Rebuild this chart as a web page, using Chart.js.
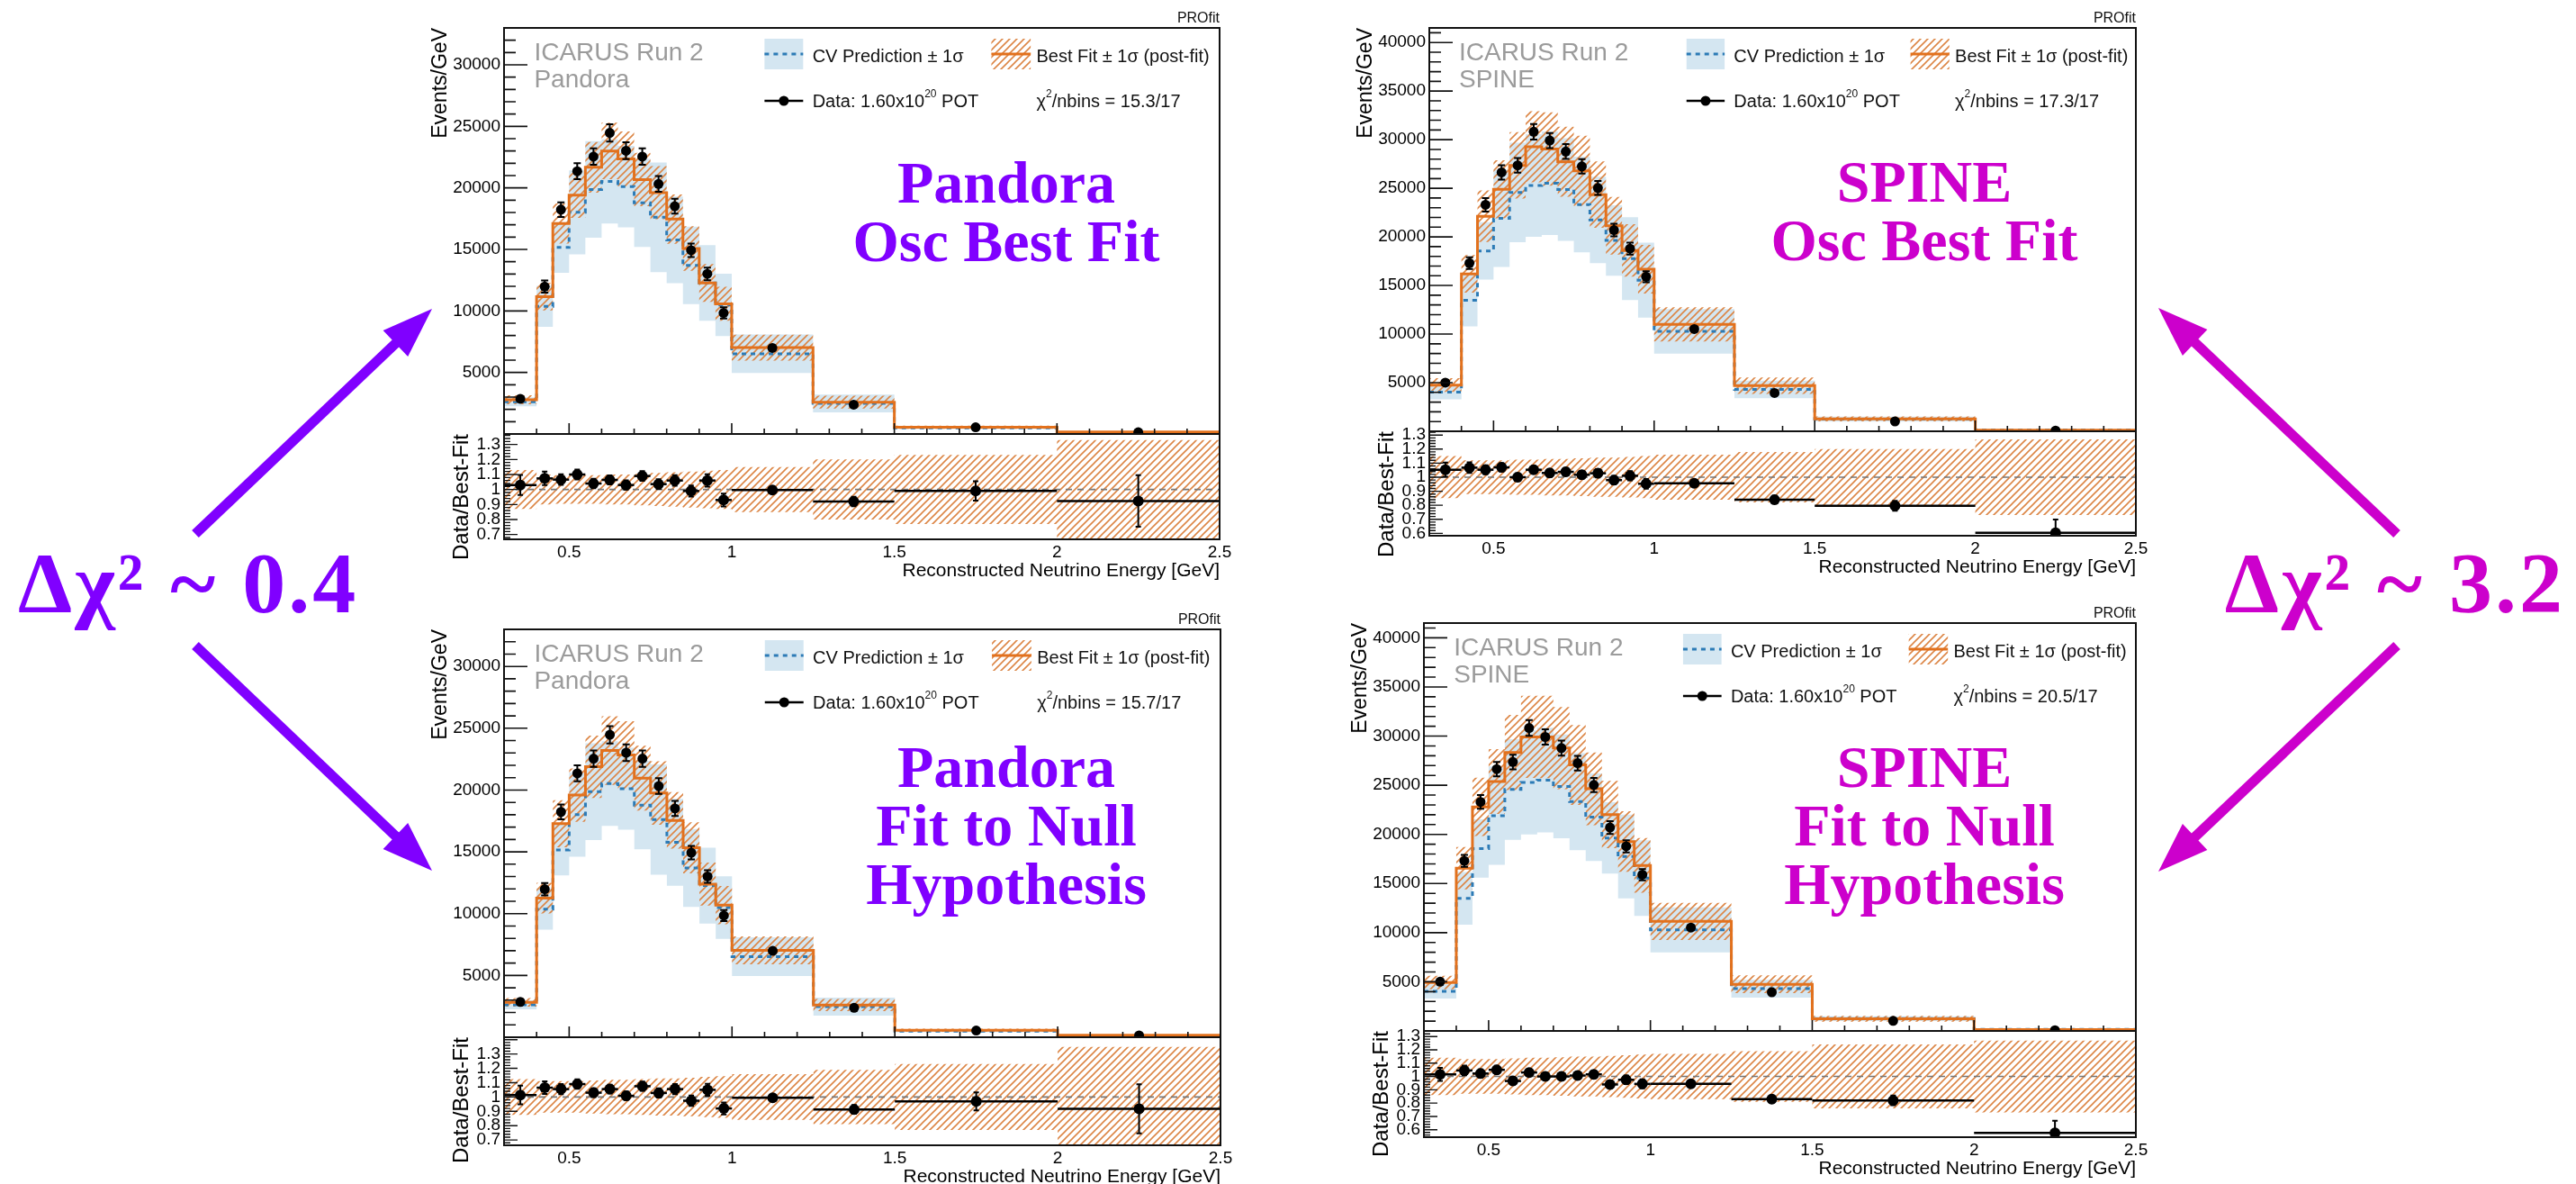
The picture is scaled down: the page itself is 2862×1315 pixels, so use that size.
<!DOCTYPE html>
<html>
<head>
<meta charset="utf-8">
<title>ICARUS Run 2 – PROfit fits, Pandora and SPINE</title>
<script src="https://cdn.jsdelivr.net/npm/chart.js@4.4.1/dist/chart.umd.min.js"></script>
<style>
  html, body { margin: 0; padding: 0; background: #ffffff; }
  body { position: relative; width: 2862px; height: 1315px; overflow: hidden; }
  canvas.pad { position: absolute; }
  .tag { position: absolute; width: 640px; font-family: "Liberation Serif", "Times New Roman", serif; font-weight: bold;
         font-size: 66px; line-height: 65px; text-align: center; white-space: nowrap; }
  .delta { position: absolute; font-family: "Liberation Serif", "Times New Roman", serif; font-weight: bold;
           font-size: 96px; line-height: 96px; letter-spacing: 3px; white-space: nowrap; }
  svg.arrows { position: absolute; left: 0; top: 0; }
</style>
</head>
<body>
<script>
// ---------- energy binning (GeV) ----------
const binEdges = [0.3, 0.4, 0.45, 0.5, 0.55, 0.6, 0.65, 0.7, 0.75, 0.8, 0.85, 0.9, 0.95, 1.0, 1.25, 1.5, 2.0, 2.5];

// ---------- observed data (Events/GeV) and statistical errors ----------
const pandoraData    = [2860, 11980, 18230, 21350, 22540, 24470, 23020, 22540, 20320, 18510, 14930, 13010, 9840, 6990, 2380, 540, 145];
const pandoraDataErr = [185, 500, 600, 650, 670, 700, 680, 670, 640, 610, 550, 510, 450, 110, 80, 35, 27];
const spineData      = [5010, 17300, 23300, 26640, 27360, 30820, 29910, 28780, 27250, 25030, 20700, 18790, 15900, 10520, 3940, 1020, 76];
const spineDataErr   = [240, 600, 700, 740, 750, 800, 780, 760, 740, 720, 650, 620, 570, 210, 130, 45, 12];

// ---------- central-value prediction and its 1 sigma ----------
const pandoraCV    = [2620, 10370, 15160, 18010, 19870, 20520, 20110, 18780, 17610, 15770, 13700, 12270, 10490, 6520, 2480, 500, 100];
const pandoraCVErr = [370, 1670, 2060, 3410, 3920, 3420, 3310, 3580, 4460, 3520, 3150, 3070, 2540, 1570, 730, 100, 20];
const spineCV      = [4020, 13480, 18560, 21900, 24570, 25290, 25520, 24880, 23330, 21750, 19630, 17760, 15550, 10290, 4300, 1250, 150];
const spineCVErr   = [720, 2680, 2960, 5000, 5120, 5290, 5320, 5280, 4930, 4450, 3630, 4260, 3850, 2290, 900, 250, 50];

// ---------- post-fit predictions and fractional 1 sigma ----------
const pandoraOscFit     = [2777, 11155, 17101, 19409, 21673, 22998, 22350, 20679, 19614, 17462, 15081, 12274, 10581, 7018, 2587, 545, 157];
const pandoraOscFitErr  = [0.13, 0.10, 0.095, 0.095, 0.095, 0.10, 0.10, 0.105, 0.11, 0.115, 0.12, 0.125, 0.13, 0.15, 0.20, 0.23, 0.33];
const pandoraNullFit    = [2821, 11249, 17280, 19587, 21883, 23194, 22837, 20967, 19767, 17545, 15329, 12390, 10696, 7032, 2607, 557, 158];
const pandoraNullFitErr = [0.125, 0.11, 0.11, 0.11, 0.115, 0.12, 0.12, 0.125, 0.13, 0.13, 0.135, 0.14, 0.145, 0.16, 0.19, 0.23, 0.35];
const spineOscFit       = [4758, 16199, 22127, 24897, 27360, 29269, 29039, 27726, 26794, 24348, 21144, 18604, 16684, 10993, 4690, 1280, 126];
const spineOscFitErr    = [0.15, 0.12, 0.12, 0.12, 0.125, 0.125, 0.13, 0.13, 0.135, 0.14, 0.14, 0.145, 0.15, 0.16, 0.18, 0.20, 0.27];
const spineNullFit      = [4931, 16555, 22798, 25371, 28323, 29922, 29910, 28780, 27061, 24636, 22021, 19272, 16843, 11144, 4747, 1244, 132];
const spineNullFitErr   = [0.14, 0.13, 0.13, 0.13, 0.135, 0.14, 0.14, 0.145, 0.15, 0.15, 0.155, 0.16, 0.165, 0.17, 0.19, 0.24, 0.27];

// ---------- axis ticks ----------
const energyTicks       = [0.5, 1, 1.5, 2, 2.5];
const pandoraEventTicks = [5000, 10000, 15000, 20000, 25000, 30000];
const spineEventTicks   = [5000, 10000, 15000, 20000, 25000, 30000, 35000, 40000];
const pandoraRatioTicks = [0.7, 0.8, 0.9, 1, 1.1, 1.2, 1.3];
const spineRatioTicks   = [0.6, 0.7, 0.8, 0.9, 1, 1.1, 1.2, 1.3];

// ---------- annotations ----------
const chi2Labels  = ['15.3/17', '17.3/17', '15.7/17', '20.5/17'];
const fitLabels   = [['Pandora', 'Osc Best Fit'], ['SPINE', 'Osc Best Fit'],
                     ['Pandora', 'Fit to Null', 'Hypothesis'], ['SPINE', 'Fit to Null', 'Hypothesis']];
const deltaChi2   = ['0.4', '3.2'];

// ---------- styles ----------
const FONT = '"Liberation Sans", Arial, Helvetica, sans-serif';
const PANDORA_COLOR = '#8000ff';
const SPINE_COLOR = '#cc00cc';
const CV_BAND = '#d4e6f1';
const CV_LINE = '#2c7bb6';
const FIT_LINE = '#e2711d';
const HATCH_COLOR = '#dc8646';

const binCenters = binEdges.slice(0, -1).map((e, i) => (e + binEdges[i + 1]) / 2);

// histogram outline: one point per left edge plus the closing right edge
function stepPoints(vals) {
  const pts = vals.map((v, i) => ({ x: binEdges[i], y: v }));
  pts.push({ x: binEdges[binEdges.length - 1], y: vals[vals.length - 1] });
  return pts;
}

function stepLine(points, extra) {
  return Object.assign({
    data: points, stepped: 'before', tension: 0, pointRadius: 0, pointHoverRadius: 0,
    borderWidth: 0, borderColor: 'rgba(0,0,0,0)', backgroundColor: 'rgba(0,0,0,0)', fill: false
  }, extra);
}

function makeCanvas(left, top, w, h) {
  const c = document.createElement('canvas');
  c.className = 'pad';
  c.width = w; c.height = h;
  c.style.left = left + 'px'; c.style.top = top + 'px';
  c.style.width = w + 'px'; c.style.height = h + 'px';
  document.body.appendChild(c);
  return c;
}

function makeHatch(ctx) {
  const s = 8;
  const t = document.createElement('canvas');
  t.width = s; t.height = s;
  const g = t.getContext('2d');
  g.strokeStyle = HATCH_COLOR; g.lineWidth = 1.6;
  g.beginPath();
  g.moveTo(-2, s + 2); g.lineTo(s + 2, -2);
  g.moveTo(-2, 2); g.lineTo(2, -2);
  g.moveTo(s - 2, s + 2); g.lineTo(s + 2, s - 2);
  g.stroke();
  return ctx.createPattern(t, 'repeat');
}

function textWithSup(ctx, parts, x, y, size) {
  let cx = x;
  for (const [t, sup] of parts) {
    ctx.font = (sup ? Math.round(size * 0.6) : size) + 'px ' + FONT;
    ctx.fillText(t, cx, sup ? y - size * 0.42 : y);
    cx += ctx.measureText(t).width;
  }
}

function rotatedTitle(ctx, text, x, yTop, size) {
  ctx.save();
  ctx.font = size + 'px ' + FONT;
  ctx.fillStyle = '#000';
  ctx.translate(x, yTop);
  ctx.rotate(-Math.PI / 2);
  ctx.textAlign = 'right';
  ctx.textBaseline = 'middle';
  ctx.fillText(text, 0, 0);
  ctx.restore();
}

// ---------- panels ----------
const panels = [
  { reco: 'Pandora', data: pandoraData, dataErr: pandoraDataErr, cv: pandoraCV, cvErr: pandoraCVErr,
    fit: pandoraOscFit, fitErr: pandoraOscFitErr, chi2: chi2Labels[0],
    yMax: 33000, yTicks: pandoraEventTicks, rMin: 0.668, rMax: 1.37, rTicks: pandoraRatioTicks,
    geo: { L: 560, R: 1355, T: 31, B: 482, RB: 599 } },
  { reco: 'SPINE', data: spineData, dataErr: spineDataErr, cv: spineCV, cvErr: spineCVErr,
    fit: spineOscFit, fitErr: spineOscFitErr, chi2: chi2Labels[1],
    yMax: 41500, yTicks: spineEventTicks, rMin: 0.583, rMax: 1.327, rTicks: spineRatioTicks,
    geo: { L: 1588, R: 2373, T: 31, B: 479, RB: 595 } },
  { reco: 'Pandora', data: pandoraData, dataErr: pandoraDataErr, cv: pandoraCV, cvErr: pandoraCVErr,
    fit: pandoraNullFit, fitErr: pandoraNullFitErr, chi2: chi2Labels[2],
    yMax: 33000, yTicks: pandoraEventTicks, rMin: 0.663, rMax: 1.417, rTicks: pandoraRatioTicks,
    geo: { L: 560, R: 1356, T: 699, B: 1152, RB: 1272 } },
  { reco: 'SPINE', data: spineData, dataErr: spineDataErr, cv: spineCV, cvErr: spineCVErr,
    fit: spineNullFit, fitErr: spineNullFitErr, chi2: chi2Labels[3],
    yMax: 41500, yTicks: spineEventTicks, rMin: 0.544, rMax: 1.342, rTicks: spineRatioTicks,
    geo: { L: 1582, R: 2373, T: 692, B: 1145, RB: 1263 } }
];

const baseOptions = () => ({
  responsive: false, maintainAspectRatio: false, animation: false, devicePixelRatio: 1, events: [],
  plugins: { legend: { display: false }, tooltip: { enabled: false } }
});

function drawLegend(ctx, a, p, hatch) {
  const L = a.left, T = a.top, w = a.width;
  ctx.save();
  ctx.textAlign = 'left';
  ctx.textBaseline = 'middle';
  ctx.fillStyle = '#9b9b9b';
  ctx.font = '28px ' + FONT;
  ctx.fillText('ICARUS Run 2', L + 0.042 * w, T + 28);
  ctx.fillText(p.reco, L + 0.042 * w, T + 58);

  const bx0 = L + 0.364 * w, bx1 = L + 0.418 * w, by0 = T + 12, by1 = T + 46, bym = (by0 + by1) / 2;
  ctx.fillStyle = CV_BAND;
  ctx.fillRect(bx0, by0, bx1 - bx0, by1 - by0);
  ctx.strokeStyle = CV_LINE; ctx.lineWidth = 3; ctx.setLineDash([5, 5]);
  ctx.beginPath(); ctx.moveTo(bx0, bym); ctx.lineTo(bx1, bym); ctx.stroke();
  ctx.setLineDash([]);

  const ox0 = L + 0.681 * w, ox1 = L + 0.736 * w;
  ctx.fillStyle = hatch;
  ctx.fillRect(ox0, by0, ox1 - ox0, by1 - by0);
  ctx.strokeStyle = FIT_LINE; ctx.lineWidth = 3;
  ctx.beginPath(); ctx.moveTo(ox0, bym); ctx.lineTo(ox1, bym); ctx.stroke();

  const ry = T + 81;
  ctx.strokeStyle = '#000'; ctx.lineWidth = 2.5;
  ctx.beginPath(); ctx.moveTo(bx0, ry); ctx.lineTo(bx1, ry); ctx.stroke();
  ctx.fillStyle = '#000';
  ctx.beginPath(); ctx.arc((bx0 + bx1) / 2, ry, 5.5, 0, Math.PI * 2); ctx.fill();

  ctx.fillStyle = '#111';
  ctx.font = '20px ' + FONT;
  ctx.fillText('CV Prediction \u00b1 1\u03c3', L + 0.431 * w, T + 32);
  ctx.fillText('Best Fit \u00b1 1\u03c3 (post-fit)', L + 0.744 * w, T + 32);
  textWithSup(ctx, [['Data: 1.60x10', false], ['20', true], [' POT', false]], L + 0.431 * w, T + 82, 20);
  textWithSup(ctx, [['\u03c7', false], ['2', true], ['/nbins = ' + p.chi2, false]], L + 0.744 * w, T + 82, 20);
  ctx.restore();
}

function mainPadPlugin(p, hatch) {
  return {
    id: 'mainPad',
    afterDatasetsDraw(chart) {
      const { ctx, chartArea: a, scales: { x, y } } = chart;
      ctx.save();
      ctx.beginPath(); ctx.rect(a.left, a.top, a.width, a.height); ctx.clip();
      ctx.strokeStyle = '#000'; ctx.lineWidth = 2;
      ctx.beginPath();
      binCenters.forEach((c, i) => {
        const px = x.getPixelForValue(c);
        const y0 = y.getPixelForValue(p.data[i] - p.dataErr[i]);
        const y1 = y.getPixelForValue(p.data[i] + p.dataErr[i]);
        ctx.moveTo(px, y0); ctx.lineTo(px, y1);
        ctx.moveTo(px - 4, y0); ctx.lineTo(px + 4, y0);
        ctx.moveTo(px - 4, y1); ctx.lineTo(px + 4, y1);
      });
      ctx.stroke();
      ctx.restore();
    },
    afterDraw(chart) {
      const { ctx, chartArea: a, scales: { x, y } } = chart;
      ctx.save();
      ctx.strokeStyle = '#111'; ctx.lineWidth = 2;
      ctx.strokeRect(a.left, a.top, a.width, a.height);
      ctx.lineWidth = 1.6;
      ctx.beginPath();
      p.yTicks.forEach(v => { const py = y.getPixelForValue(v); ctx.moveTo(a.left, py); ctx.lineTo(a.left + 26, py); });
      for (let k = 1; k * 1000 < y.max; k++) {
        if (k % 5 === 0) continue;
        const py = y.getPixelForValue(k * 1000);
        ctx.moveTo(a.left, py); ctx.lineTo(a.left + 13, py);
      }
      for (let k = 4; k <= 24; k++) {
        const px = x.getPixelForValue(k / 10);
        const len = (k % 5 === 0) ? 12 : 6;
        ctx.moveTo(px, a.bottom); ctx.lineTo(px, a.bottom - len);
      }
      ctx.stroke();
      rotatedTitle(ctx, 'Events/GeV', a.left - 70, a.top, 23);
      ctx.font = '16px ' + FONT; ctx.fillStyle = '#111';
      ctx.textAlign = 'right'; ctx.textBaseline = 'middle';
      ctx.fillText('PROfit', a.right, a.top - 10);
      ctx.restore();
      drawLegend(ctx, a, p, hatch);
    }
  };
}

function ratioPadPlugin(p, ratio, ratioErr) {
  return {
    id: 'ratioPad',
    afterDatasetsDraw(chart) {
      const { ctx, chartArea: a, scales: { x, y } } = chart;
      ctx.save();
      ctx.beginPath(); ctx.rect(a.left, a.top, a.width, a.height); ctx.clip();
      ctx.strokeStyle = '#000';
      binCenters.forEach((c, i) => {
        const px = x.getPixelForValue(c);
        const py = y.getPixelForValue(ratio[i]);
        ctx.lineWidth = 2.5;
        ctx.beginPath();
        ctx.moveTo(x.getPixelForValue(binEdges[i]), py); ctx.lineTo(x.getPixelForValue(binEdges[i + 1]), py);
        ctx.stroke();
        const y0 = y.getPixelForValue(ratio[i] - ratioErr[i]);
        const y1 = y.getPixelForValue(ratio[i] + ratioErr[i]);
        ctx.lineWidth = 2;
        ctx.beginPath();
        ctx.moveTo(px, y0); ctx.lineTo(px, y1);
        ctx.moveTo(px - 3, y0); ctx.lineTo(px + 3, y0);
        ctx.moveTo(px - 3, y1); ctx.lineTo(px + 3, y1);
        ctx.stroke();
      });
      ctx.restore();
    },
    afterDraw(chart) {
      const { ctx, chartArea: a, scales: { y } } = chart;
      ctx.save();
      ctx.strokeStyle = '#111'; ctx.lineWidth = 2;
      ctx.strokeRect(a.left, a.top, a.width, a.height);
      ctx.lineWidth = 1.4;
      ctx.beginPath();
      for (let k = Math.ceil(y.min * 50); k / 50 <= y.max; k++) {
        const py = y.getPixelForValue(k / 50);
        const len = (k % 5 === 0) ? 15 : 7;
        ctx.moveTo(a.left, py); ctx.lineTo(a.left + len, py);
      }
      ctx.stroke();
      rotatedTitle(ctx, 'Data/Best-Fit', a.left - 47, a.top, 24);
      ctx.font = '21px ' + FONT; ctx.fillStyle = '#000';
      ctx.textAlign = 'right'; ctx.textBaseline = 'middle';
      ctx.fillText('Reconstructed Neutrino Energy [GeV]', a.right, a.bottom + 35);
      ctx.restore();
    }
  };
}

function buildMainPad(p) {
  const g = p.geo;
  const yw = 120, pt = 50, pr = 24, pb = 24;
  const W = yw + (g.R - g.L) + pr, H = pt + (g.B - g.T) + pb;
  const ctx = makeCanvas(g.L - yw, g.T - pt, W, H).getContext('2d');
  const hatch = makeHatch(ctx);
  const datasets = [
    stepLine(stepPoints(p.cv.map((v, i) => v - p.cvErr[i])), { order: 7 }),
    stepLine(stepPoints(p.cv.map((v, i) => v + p.cvErr[i])), { order: 6, fill: '-1', backgroundColor: CV_BAND }),
    stepLine(stepPoints(p.fit.map((v, i) => v * (1 - p.fitErr[i]))), { order: 5 }),
    stepLine(stepPoints(p.fit.map((v, i) => v * (1 + p.fitErr[i]))), { order: 4, fill: '-1', backgroundColor: hatch }),
    stepLine(stepPoints(p.cv), { order: 3, borderColor: CV_LINE, borderWidth: 3, borderDash: [5, 5] }),
    stepLine(stepPoints(p.fit), { order: 2, borderColor: FIT_LINE, borderWidth: 3 }),
    { data: binCenters.map((c, i) => ({ x: c, y: p.data[i] })), showLine: false, order: 1,
      pointRadius: 5.5, pointHoverRadius: 5.5, pointBackgroundColor: '#000', pointBorderWidth: 0 }
  ];
  const opts = baseOptions();
  opts.layout = { padding: { left: 0, top: pt, right: pr, bottom: pb } };
  opts.scales = {
    x: { type: 'linear', min: 0.3, max: 2.5, display: false },
    y: {
      type: 'linear', min: 0, max: p.yMax,
      afterFit: s => { s.width = yw; },
      afterBuildTicks: s => { s.ticks = p.yTicks.map(v => ({ value: v })); },
      grid: { display: false, drawTicks: false }, border: { display: false },
      ticks: { color: '#000', font: { family: FONT, size: 19 }, padding: 4, autoSkip: false, callback: v => String(v) }
    }
  };
  new Chart(ctx, { type: 'line', data: { datasets }, options: opts, plugins: [mainPadPlugin(p, hatch)] });
}

function buildRatioPad(p) {
  const g = p.geo;
  const yw = 120, pt = 24, pr = 24, pb = 4, xh = 60;
  const W = yw + (g.R - g.L) + pr, H = pt + (g.RB - g.B) + xh + pb;
  const ctx = makeCanvas(g.L - yw, g.B - pt, W, H).getContext('2d');
  const hatch = makeHatch(ctx);
  const ratio = p.data.map((v, i) => v / p.fit[i]);
  const ratioErr = p.dataErr.map((e, i) => e / p.fit[i]);
  const datasets = [
    stepLine(stepPoints(p.fitErr.map(e => 1 - e)), { order: 5 }),
    stepLine(stepPoints(p.fitErr.map(e => 1 + e)), { order: 4, fill: '-1', backgroundColor: hatch }),
    { data: [{ x: 0.3, y: 1 }, { x: 2.5, y: 1 }], order: 3, borderColor: '#777', borderWidth: 1.6,
      borderDash: [7, 6], pointRadius: 0, fill: false },
    { data: binCenters.map((c, i) => ({ x: c, y: ratio[i] })), showLine: false, order: 1,
      pointRadius: 6, pointHoverRadius: 6, pointBackgroundColor: '#000', pointBorderWidth: 0 }
  ];
  const opts = baseOptions();
  opts.layout = { padding: { left: 0, top: pt, right: pr, bottom: pb } };
  opts.scales = {
    x: {
      type: 'linear', min: 0.3, max: 2.5,
      afterFit: s => { s.height = xh; },
      afterBuildTicks: s => { s.ticks = energyTicks.map(v => ({ value: v })); },
      grid: { display: false, drawTicks: false }, border: { display: false },
      ticks: { color: '#000', font: { family: FONT, size: 19 }, padding: 3, maxRotation: 0, autoSkip: false,
               callback: v => String(v) }
    },
    y: {
      type: 'linear', min: p.rMin, max: p.rMax,
      afterFit: s => { s.width = yw; },
      afterBuildTicks: s => { s.ticks = p.rTicks.map(v => ({ value: v })); },
      grid: { display: false, drawTicks: false }, border: { display: false },
      ticks: { color: '#000', font: { family: FONT, size: 19, lineHeight: 1 }, padding: 4, autoSkip: false,
               callback: v => String(v) }
    }
  };
  new Chart(ctx, { type: 'line', data: { datasets }, options: opts, plugins: [ratioPadPlugin(p, ratio, ratioErr)] });
}

panels.forEach(p => { buildMainPad(p); buildRatioPad(p); });

// ---------- fit labels inside the panels ----------
const tagPlacement = [
  { cx: 1118, top: 170, color: PANDORA_COLOR },
  { cx: 2138, top: 169, color: SPINE_COLOR },
  { cx: 1118, top: 819, color: PANDORA_COLOR },
  { cx: 2138, top: 819, color: SPINE_COLOR }
];
fitLabels.forEach((lines, i) => {
  const d = document.createElement('div');
  d.className = 'tag';
  d.style.left = (tagPlacement[i].cx - 320) + 'px';
  d.style.top = tagPlacement[i].top + 'px';
  d.style.color = tagPlacement[i].color;
  lines.forEach((t, k) => { if (k) d.appendChild(document.createElement('br')); d.appendChild(document.createTextNode(t)); });
  document.body.appendChild(d);
});

// ---------- Δχ² labels ----------
const left = document.createElement('div');
left.className = 'delta';
left.style.left = '20px'; left.style.top = '600px'; left.style.color = PANDORA_COLOR;
left.textContent = '\u0394\u03c7\u00b2 ~ ' + deltaChi2[0];
document.body.appendChild(left);
const right = document.createElement('div');
right.className = 'delta';
right.style.right = '12px'; right.style.top = '600px'; right.style.color = SPINE_COLOR;
right.textContent = '\u0394\u03c7\u00b2 ~ ' + deltaChi2[1];
document.body.appendChild(right);

// ---------- arrows from the Δχ² labels to the panels ----------
const arrowSpecs = [
  { tail: [217, 593], tip: [480, 343], color: PANDORA_COLOR },
  { tail: [217, 717], tip: [480, 967], color: PANDORA_COLOR },
  { tail: [2663, 593], tip: [2398, 342], color: SPINE_COLOR },
  { tail: [2663, 717], tip: [2398, 968], color: SPINE_COLOR }
];
(function drawArrows() {
  const ns = 'http://www.w3.org/2000/svg';
  const svg = document.createElementNS(ns, 'svg');
  svg.setAttribute('width', '2862'); svg.setAttribute('height', '1315'); svg.setAttribute('class', 'arrows');
  arrowSpecs.forEach(a => {
    const dx = a.tip[0] - a.tail[0], dy = a.tip[1] - a.tail[1], len = Math.hypot(dx, dy);
    const ux = dx / len, uy = dy / len, nx = -uy, ny = ux;
    const hl = 56, hw = 20;
    const bx = a.tip[0] - ux * hl, by = a.tip[1] - uy * hl;
    const ln = document.createElementNS(ns, 'line');
    ln.setAttribute('x1', a.tail[0]); ln.setAttribute('y1', a.tail[1]);
    ln.setAttribute('x2', bx + ux * 4); ln.setAttribute('y2', by + uy * 4);
    ln.setAttribute('stroke', a.color); ln.setAttribute('stroke-width', '11');
    svg.appendChild(ln);
    const pg = document.createElementNS(ns, 'polygon');
    pg.setAttribute('points', [a.tip[0], a.tip[1], bx + nx * hw, by + ny * hw, bx - nx * hw, by - ny * hw].join(' '));
    pg.setAttribute('fill', a.color);
    svg.appendChild(pg);
  });
  document.body.appendChild(svg);
})();
</script>
</body>
</html>
